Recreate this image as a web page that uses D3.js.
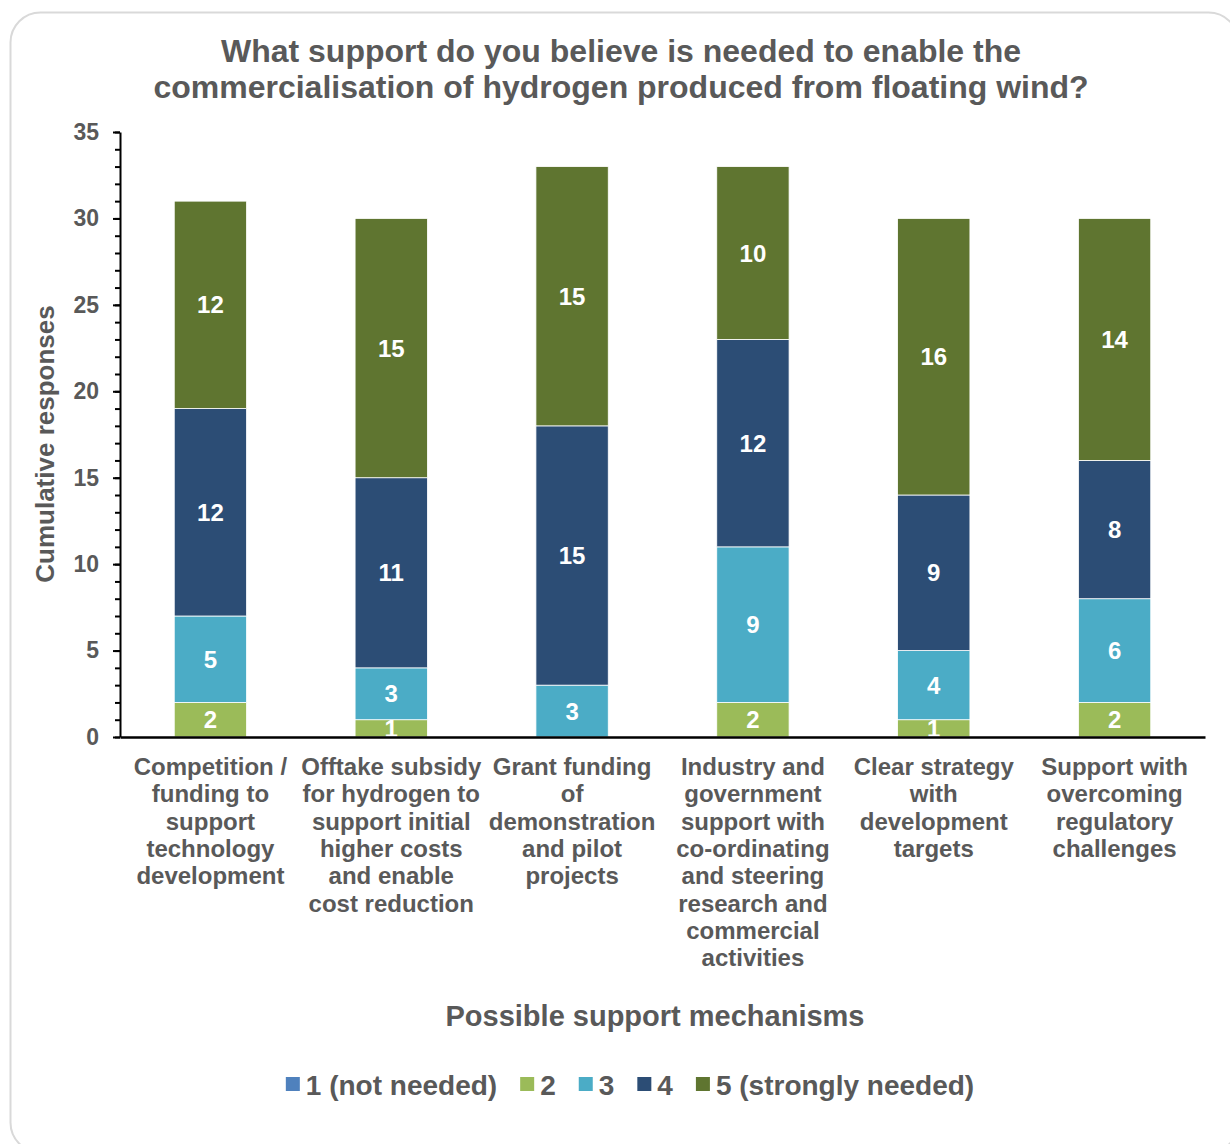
<!DOCTYPE html>
<html>
<head>
<meta charset="utf-8">
<script src="https://cdn.jsdelivr.net/npm/d3@7"></script>
<style>
  html, body { margin: 0; padding: 0; background: #fff; }
  svg text { font-family: "Liberation Sans", Arial, sans-serif; font-weight: bold; }
</style>
</head>
<body>
<svg id="chart" width="1230" height="1144"></svg>
<script>
// categories, one line per wrapped row
const categories = [
  ["Competition /", "funding to", "support", "technology", "development"],
  ["Offtake subsidy", "for hydrogen to", "support initial", "higher costs", "and enable", "cost reduction"],
  ["Grant funding", "of", "demonstration", "and pilot", "projects"],
  ["Industry and", "government", "support with", "co-ordinating", "and steering", "research and", "commercial", "activities"],
  ["Clear strategy", "with", "development", "targets"],
  ["Support with", "overcoming", "regulatory", "challenges"]
];
const seriesNames = ["1 (not needed)", "2", "3", "4", "5 (strongly needed)"];
const seriesColors = ["#4f81bd", "#9bbb59", "#4bacc6", "#2c4d75", "#5f7530"];
const s1 = [0, 0, 0, 0, 0, 0];
const s2 = [2, 1, 0, 2, 1, 2];
const s3 = [5, 3, 3, 9, 4, 6];
const s4 = [12, 11, 15, 12, 9, 8];
const s5 = [12, 15, 15, 10, 16, 14];
const yTicks = [0, 5, 10, 15, 20, 25, 30, 35];

const grey = "#595959";
const svg = d3.select("#chart");

// card border
svg.append("rect")
  .attr("x", 10.5).attr("y", 12.5)
  .attr("width", 1228).attr("height", 1140)
  .attr("rx", 30)
  .attr("fill", "none")
  .attr("stroke", "#d9d9d9")
  .attr("stroke-width", 2);

// title
const title = svg.append("text")
  .attr("text-anchor", "middle")
  .attr("fill", grey)
  .style("font-size", "32px");
title.append("tspan").attr("x", 621).attr("y", 62).text("What support do you believe is needed to enable the");
title.append("tspan").attr("x", 621).attr("y", 98).text("commercialisation of hydrogen produced from floating wind?");

const plotLeft = 120, plotRight = 1205, plotTop = 132, plotBottom = 737;

const x = d3.scaleBand()
  .domain(d3.range(categories.length))
  .range([plotLeft, plotRight])
  .paddingInner(0.6)
  .paddingOuter(0.3);

const y = d3.scaleLinear().domain([0, 35]).range([plotBottom, plotTop]);

// stack
const rows = categories.map((c, i) => ({ i: i, s0: s1[i], s1: s2[i], s2: s3[i], s3: s4[i], s4: s5[i] }));
const stack = d3.stack().keys(["s0", "s1", "s2", "s3", "s4"])(rows);

const layers = svg.append("g").selectAll("g")
  .data(stack)
  .enter().append("g")
  .attr("fill", (d, k) => seriesColors[k]);

layers.selectAll("rect")
  .data(d => d)
  .enter().append("rect")
  .attr("x", d => x(d.data.i))
  .attr("width", x.bandwidth())
  .attr("y", d => y(d[1]))
  .attr("height", d => y(d[0]) - y(d[1]))
  .attr("stroke", "#ffffff")
  .attr("stroke-width", 0.8);

layers.selectAll("text")
  .data(d => d.filter(p => p[1] - p[0] > 0))
  .enter().append("text")
  .attr("x", d => x(d.data.i) + x.bandwidth() / 2)
  .attr("y", d => y((d[0] + d[1]) / 2))
  .attr("dy", "0.36em")
  .attr("text-anchor", "middle")
  .attr("fill", "#ffffff")
  .style("font-size", "24px")
  .text(d => d[1] - d[0]);

// y axis with minor ticks
const minor = svg.append("g")
  .attr("transform", `translate(${plotLeft},0)`)
  .call(d3.axisLeft(y).tickValues(d3.range(0, 36)).tickSize(5).tickFormat(""));
minor.select(".domain").remove();
minor.selectAll("line").attr("stroke", "#000").attr("stroke-width", 2);

const yAxis = svg.append("g")
  .attr("transform", `translate(${plotLeft},0)`)
  .call(d3.axisLeft(y).tickValues(yTicks).tickSize(7).tickPadding(14).tickSizeOuter(0));
yAxis.select(".domain").attr("stroke", "#000").attr("stroke-width", 2);
yAxis.selectAll("line").attr("stroke", "#000").attr("stroke-width", 2);
yAxis.selectAll("text")
  .attr("fill", grey)
  .style("font-size", "23px")
  .style("font-family", "Liberation Sans, Arial, sans-serif")
  .style("font-weight", "bold");

// x axis
const xAxis = svg.append("g")
  .attr("transform", `translate(0,${plotBottom})`)
  .call(d3.axisBottom(x).tickSize(0).tickFormat(""));
xAxis.select(".domain").attr("stroke", "#000").attr("stroke-width", 2.5);

const catLabels = svg.append("g").selectAll("text")
  .data(categories)
  .enter().append("text")
  .attr("text-anchor", "middle")
  .attr("fill", grey)
  .style("font-size", "24px");
catLabels.each(function(lines, i) {
  const t = d3.select(this);
  lines.forEach((ln, j) => {
    t.append("tspan")
      .attr("x", x(i) + x.bandwidth() / 2)
      .attr("y", 775 + j * 27.3)
      .text(ln);
  });
});

// axis titles
svg.append("text")
  .attr("transform", "translate(54,444) rotate(-90)")
  .attr("text-anchor", "middle")
  .attr("fill", grey)
  .style("font-size", "26px")
  .text("Cumulative responses");

svg.append("text")
  .attr("x", 655).attr("y", 1026)
  .attr("text-anchor", "middle")
  .attr("fill", grey)
  .style("font-size", "29px")
  .text("Possible support mechanisms");

// legend
const legend = svg.append("g");
const items = legend.selectAll("g")
  .data(seriesNames)
  .enter().append("g");
items.append("rect")
  .attr("width", 14).attr("height", 14)
  .attr("y", -18)
  .attr("fill", (d, k) => seriesColors[k]);
items.append("text")
  .attr("x", 20)
  .attr("y", 0)
  .attr("fill", grey)
  .style("font-size", "28px")
  .text(d => d);
let cursor = 0;
items.each(function() {
  const w = d3.select(this).select("text").node().getComputedTextLength();
  d3.select(this).attr("transform", `translate(${cursor},0)`);
  cursor += 20 + w + 23;
});
const totalW = cursor - 23;
legend.attr("transform", `translate(${630 - totalW / 2},1095)`);
</script>
</body>
</html>
